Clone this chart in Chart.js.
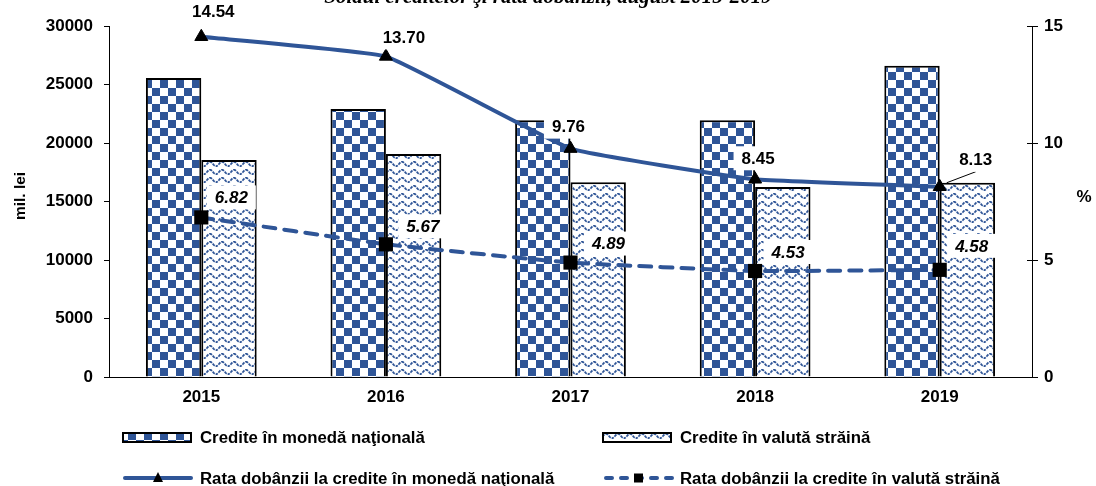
<!DOCTYPE html>
<html>
<head>
<meta charset="utf-8">
<title>Credite si rata dobanzii</title>
<script src="https://cdn.jsdelivr.net/npm/chart.js@4.4.1/dist/chart.umd.min.js"></script>
<style>
  body { margin: 0; background: #fff; }
  canvas { display: block; }
</style>
</head>
<body>
<canvas id="chart" width="1096" height="486"></canvas>
<script>
// Chart data
const years = ['2015', '2016', '2017', '2018', '2019'];
const crediteMdl = [25550, 22900, 21950, 21950, 26600];     // mil. lei
const crediteValuta = [18550, 19050, 16650, 16250, 16600];  // mil. lei
const rataMdl = [14.54, 13.70, 9.76, 8.45, 8.13];           // %
const rataValuta = [6.82, 5.67, 4.89, 4.53, 4.58];          // %

const leftTicks = [0, 5000, 10000, 15000, 20000, 25000, 30000];
const rightTicks = [0, 5, 10, 15];

const seriesNames = [
  'Credite în monedă naţională',
  'Credite în valută străină',
  'Rata dobânzii la credite în monedă naţională',
  'Rata dobânzii la credite în valută străină'
];
const titleText = 'Soldul creditelor şi rata dobânzii, august 2015-2019';

const BLUE = '#2F5597';
const FONT = "'Liberation Sans', Arial, sans-serif";

// fill patterns for the bars
function checkerPattern() {
  const c = document.createElement('canvas');
  c.width = 16; c.height = 16;
  const g = c.getContext('2d');
  g.fillStyle = '#fff';
  g.fillRect(0, 0, 16, 16);
  g.fillStyle = BLUE;
  g.fillRect(0, 0, 8, 8);
  g.fillRect(8, 8, 8, 8);
  return g.createPattern(c, 'repeat');
}

function wavePattern() {
  const c = document.createElement('canvas');
  c.width = 12; c.height = 8;
  const g = c.getContext('2d');
  g.fillStyle = '#fff';
  g.fillRect(0, 0, 12, 8);
  g.strokeStyle = BLUE;
  g.lineWidth = 1.8;
  g.setLineDash([3, 1]);
  g.beginPath();
  for (let x = -1; x <= 13; x += 0.5) {
    const y = 4 + 2.2 * Math.cos(x / 12 * Math.PI * 2);
    if (x === -1) g.moveTo(x, y); else g.lineTo(x, y);
  }
  g.stroke();
  return g.createPattern(c, 'repeat');
}

const checker = checkerPattern();
const waves = wavePattern();

// value labels with white boxes, offsets in px from each point
const valueLabels = {
  id: 'valueLabels',
  afterDatasetsDraw(chart, args, opts) {
    const ctx = chart.ctx;
    opts.sets.forEach(set => {
      const ds = chart.data.datasets[set.dataset];
      const meta = chart.getDatasetMeta(set.dataset);
      meta.data.forEach((pt, i) => {
        const text = ds.data[i].toFixed(2);
        const cx = pt.x + set.offsets[i][0];
        const cy = pt.y + set.offsets[i][1];
        ctx.save();
        ctx.font = set.font;
        const w = ctx.measureText(text).width;
        if (set.leader && set.leader[i]) {
          ctx.strokeStyle = '#000';
          ctx.lineWidth = 1;
          ctx.beginPath();
          ctx.moveTo(cx, cy + 12);
          ctx.lineTo(pt.x + 7, pt.y - 4);
          ctx.stroke();
        }
        ctx.fillStyle = '#fff';
        ctx.fillRect(cx - w / 2 - 8, cy - 12, w + 16, 24);
        ctx.fillStyle = '#000';
        ctx.textAlign = 'center';
        ctx.textBaseline = 'middle';
        ctx.fillText(text, cx, cy + 1);
        ctx.restore();
      });
    });
  }
};

// legend, axis titles, cut title and inner ticks of the right axis
const extras = {
  id: 'extras',
  afterDraw(chart) {
    const ctx = chart.ctx;
    ctx.save();

    // title (cut at the top edge as in the source image)
    ctx.font = "bold italic 21px 'Liberation Serif', 'Times New Roman', serif";
    ctx.fillStyle = '#000';
    ctx.textAlign = 'center';
    ctx.textBaseline = 'alphabetic';
    ctx.fillText(titleText, 548, 3);

    // axis titles
    ctx.font = 'bold 15.5px ' + FONT;
    ctx.save();
    ctx.translate(21, 196);
    ctx.rotate(-Math.PI / 2);
    ctx.textBaseline = 'middle';
    ctx.fillText('mil. lei', 0, 0);
    ctx.restore();
    ctx.font = 'bold 17px ' + FONT;
    ctx.textBaseline = 'middle';
    ctx.fillText('%', 1084, 197);

    // inner part of the right axis tick marks
    const y1 = chart.scales.y1;
    ctx.strokeStyle = '#000';
    ctx.lineWidth = 1;
    y1.ticks.forEach(t => {
      const py = Math.round(y1.getPixelForValue(t.value)) + 0.5;
      ctx.beginPath();
      ctx.moveTo(y1.left - 5, py);
      ctx.lineTo(y1.left, py);
      ctx.stroke();
    });

    // legend
    ctx.font = 'bold 16.8px ' + FONT;
    ctx.textAlign = 'left';
    ctx.textBaseline = 'middle';
    const cols = [123, 603];
    const rows = [437, 478];
    [checker, waves].forEach((pat, k) => {
      const x = cols[k];
      ctx.fillStyle = pat;
      ctx.fillRect(x, rows[0] - 4, 68, 9);
      ctx.strokeStyle = '#000';
      ctx.lineWidth = 2;
      ctx.strokeRect(x, rows[0] - 4, 68, 9);
      ctx.fillStyle = '#000';
      ctx.fillText(seriesNames[k], x + 77, rows[0] + 1);
    });
    // line entries
    ctx.strokeStyle = BLUE;
    ctx.lineWidth = 4;
    ctx.lineCap = 'round';
    ctx.beginPath();
    ctx.moveTo(cols[0] + 2, rows[1]);
    ctx.lineTo(cols[0] + 68, rows[1]);
    ctx.stroke();
    ctx.fillStyle = '#000';
    ctx.beginPath();
    ctx.moveTo(cols[0] + 35, rows[1] - 6);
    ctx.lineTo(cols[0] + 40, rows[1] + 4);
    ctx.lineTo(cols[0] + 30, rows[1] + 4);
    ctx.closePath();
    ctx.fill();
    ctx.fillText(seriesNames[2], cols[0] + 77, rows[1] + 1);

    ctx.setLineDash([6, 9]);
    ctx.beginPath();
    ctx.moveTo(cols[1] + 3, rows[1]);
    ctx.lineTo(cols[1] + 69, rows[1]);
    ctx.stroke();
    ctx.setLineDash([]);
    ctx.fillStyle = '#000';
    ctx.fillRect(cols[1] + 31, rows[1] - 4.5, 9, 9);
    ctx.fillText(seriesNames[3], cols[1] + 77, rows[1] + 1);

    ctx.restore();
  }
};

const plainTicks = v => String(v);

new Chart(document.getElementById('chart'), {
  type: 'bar',
  data: {
    labels: years,
    datasets: [
      {
        label: seriesNames[2],
        type: 'line',
        data: rataMdl,
        yAxisID: 'y1',
        order: 0,
        borderColor: BLUE,
        borderWidth: 4,
        tension: 0.1,
        pointStyle: 'triangle',
        pointRadius: 7.5,
        pointBackgroundColor: '#000',
        pointBorderColor: '#000',
        pointBorderWidth: 1
      },
      {
        label: seriesNames[3],
        type: 'line',
        data: rataValuta,
        yAxisID: 'y1',
        order: 0,
        borderColor: BLUE,
        borderWidth: 4,
        borderDash: [12, 9],
        borderCapStyle: 'round',
        tension: 0.1,
        pointStyle: 'rect',
        pointRadius: 10,
        pointBackgroundColor: '#000',
        pointBorderColor: '#000',
        pointBorderWidth: 0
      },
      {
        label: seriesNames[0],
        data: crediteMdl,
        yAxisID: 'y',
        order: 1,
        backgroundColor: checker,
        borderColor: '#000',
        borderWidth: 2,
        categoryPercentage: 0.6,
        barPercentage: 1
      },
      {
        label: seriesNames[1],
        data: crediteValuta,
        yAxisID: 'y',
        order: 1,
        backgroundColor: waves,
        borderColor: '#000',
        borderWidth: 2,
        categoryPercentage: 0.6,
        barPercentage: 1
      }
    ]
  },
  options: {
    responsive: false,
    animation: false,
    layout: { padding: { top: 26, bottom: 69, left: 0, right: 0 } },
    plugins: {
      legend: { display: false },
      tooltip: { enabled: false },
      valueLabels: {
        sets: [
          {
            dataset: 0,
            font: 'bold 17px ' + FONT,
            offsets: [[12, -25], [18, -19], [-2, -22], [3, -21], [36, -27]],
            leader: [false, false, false, false, true]
          },
          {
            dataset: 1,
            font: 'bold italic 17px ' + FONT,
            offsets: [[30, -20], [37, -18], [38, -19], [33, -19], [32, -24]]
          }
        ]
      }
    },
    scales: {
      x: {
        grid: { drawOnChartArea: false, drawTicks: false },
        border: { color: '#000', width: 1 },
        ticks: { color: '#000', font: { family: FONT, size: 17, weight: 'bold' }, padding: 10 },
        afterFit: s => { s.height = 40; }
      },
      y: {
        position: 'left',
        min: 0,
        max: 30000,
        afterBuildTicks: s => { s.ticks = leftTicks.map(v => ({ value: v })); },
        grid: { drawOnChartArea: false, tickLength: 5, color: '#000' },
        border: { color: '#000', width: 1 },
        ticks: {
          color: '#000',
          font: { family: FONT, size: 17, weight: 'bold' },
          padding: 11,
          callback: plainTicks
        },
        afterFit: s => { s.width = 109; }
      },
      y1: {
        position: 'right',
        min: 0,
        max: 15,
        afterBuildTicks: s => { s.ticks = rightTicks.map(v => ({ value: v })); },
        grid: { drawOnChartArea: false, tickLength: 6, color: '#000' },
        border: { color: '#000', width: 1 },
        ticks: {
          color: '#000',
          font: { family: FONT, size: 17, weight: 'bold' },
          padding: 6,
          callback: plainTicks
        },
        afterFit: s => { s.width = 64; }
      }
    }
  },
  plugins: [valueLabels, extras]
});
</script>
</body>
</html>
